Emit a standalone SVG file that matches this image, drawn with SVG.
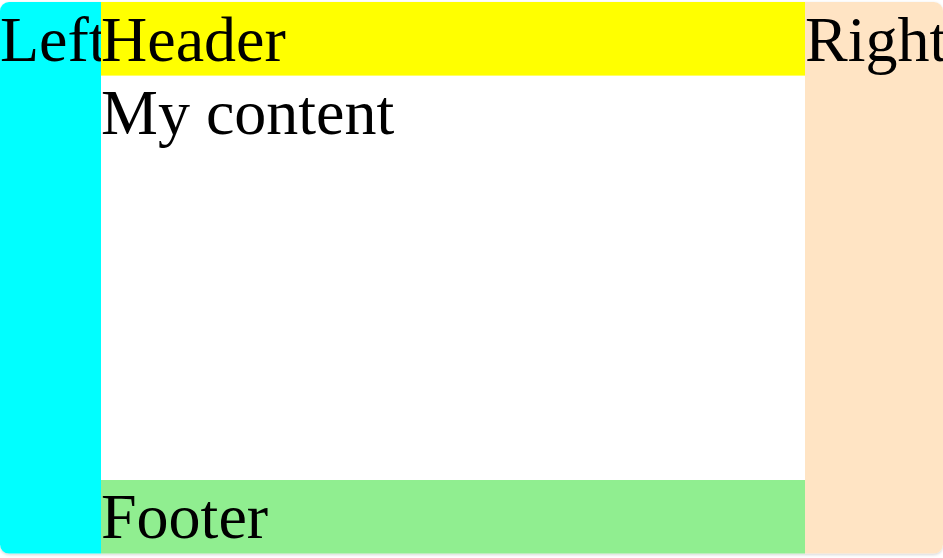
<svg xmlns="http://www.w3.org/2000/svg" width="943" height="558" viewBox="0 0 943 558">
<style>
text{font-family:"Liberation Serif","Times New Roman",serif;font-size:64px;fill:#000}
</style>
<defs>
<clipPath id="c"><rect x="0" y="2" width="943" height="551.6" rx="9"/></clipPath>
<filter id="s" x="-5%" y="-5%" width="110%" height="110%"><feGaussianBlur stdDeviation="1.5"/></filter>
</defs>
<rect x="0" y="3" width="943" height="552" rx="9" fill="#000" opacity="0.15" filter="url(#s)"/>
<g clip-path="url(#c)">
<rect x="0" y="2" width="943" height="552" fill="#fff"/>
<g id="left"><rect x="0" y="2" width="101" height="552" fill="#00ffff"/><text x="0" y="61">Left</text></g>
<g id="header"><rect x="101" y="2" width="704" height="73.6" fill="#ffff00"/><text x="101" y="61">Header</text></g>
<g id="content"><text x="101" y="134">My content</text></g>
<g id="footer"><rect x="101" y="480" width="704" height="74" fill="#90ee90"/><text x="101" y="538.4">Footer</text></g>
<g id="right"><rect x="805" y="2" width="138" height="552" fill="#ffe4c4"/><text x="805" y="61">Right</text></g>
</g>
<g id="connectors"/>
</svg>
